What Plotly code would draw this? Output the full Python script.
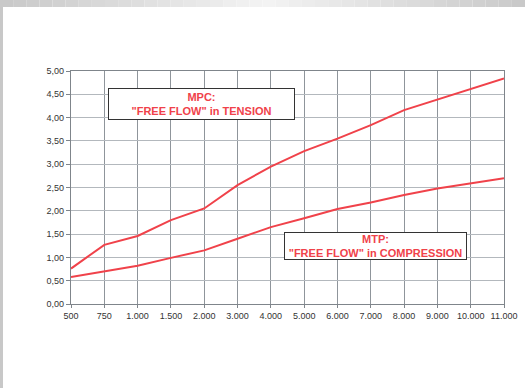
import plotly.graph_objects as go

categories = ["500", "750", "1.000", "1.500", "2.000", "3.000", "4.000", "5.000",
              "6.000", "7.000", "8.000", "9.000", "10.000", "11.000"]
mpc_values = [0.76, 1.27, 1.46, 1.80, 2.05, 2.55, 2.95, 3.28, 3.55, 3.84, 4.16, 4.39, 4.62, 4.84]
mtp_values = [0.58, 0.70, 0.82, 0.99, 1.15, 1.40, 1.65, 1.84, 2.04, 2.18, 2.34, 2.48, 2.59, 2.70]
y_ticks = [0, 0.5, 1, 1.5, 2, 2.5, 3, 3.5, 4, 4.5, 5]

RED = "#f0424a"
FONT = "Liberation Sans, Arial, sans-serif"

fig = go.Figure()
fig.add_trace(go.Scatter(x=categories, y=mpc_values, mode="lines",
                         line=dict(color=RED, width=2), name="MPC", cliponaxis=False))
fig.add_trace(go.Scatter(x=categories, y=mtp_values, mode="lines",
                         line=dict(color=RED, width=2), name="MTP", cliponaxis=False))

PX0, PW, PY0, PH = 71, 433, 304, 233

def px(x):
    return (x - PX0) / PW

def py(y):
    return (PY0 - y) / PH

# decorative page border strips
shapes = []
n = 40
W = 525
for i in range(n):
    x0 = i * W / n
    x1 = (i + 1) * W / n
    t = abs((x0 + x1) / 2 - 265) / 265
    g = int(244 - (244 - 200) * t)
    col = f"rgb({g},{g},{g})"
    shapes.append(dict(type="rect", xref="paper", yref="paper",
                       x0=px(x0), x1=px(x1), y0=py(7), y1=py(0),
                       fillcolor=col, line=dict(width=0), layer="below"))
shapes.append(dict(type="rect", xref="paper", yref="paper",
                   x0=px(0), x1=px(3), y0=py(388), y1=py(7),
                   fillcolor="rgb(200,200,200)", line=dict(width=0), layer="below"))

fig.update_layout(
    width=525, height=388,
    margin=dict(l=71, r=21, t=71, b=84, autoexpand=False),
    paper_bgcolor="white", plot_bgcolor="white",
    showlegend=False,
    separators=",.",
    font=dict(family=FONT, size=9, color="#333333"),
    shapes=shapes,
    xaxis=dict(type="category", range=[0, len(categories) - 1], automargin=False,
               showgrid=True, gridcolor="#8f959b", gridwidth=1.2,
               showline=True, linecolor="#7f858b", linewidth=1.2, mirror=True,
               ticks="outside", ticklen=3, tickcolor="#7f858b",
               tickfont=dict(size=9, color="#333333"), zeroline=False),
    yaxis=dict(range=[0, 5], tickvals=y_ticks, tickformat=".2f", automargin=False,
               showgrid=True, gridcolor="#b3b8bd", gridwidth=1.2,
               showline=True, linecolor="#7f858b", linewidth=1.2, mirror=True,
               ticks="outside", ticklen=4, tickcolor="#7f858b",
               tickfont=dict(size=9, color="#333333"), zeroline=False),
    annotations=[
        dict(xref="paper", yref="paper", x=px(201.5), y=py(104),
             xanchor="center", yanchor="middle", showarrow=False,
             text="<b>MPC:</b><br><b>\"FREE FLOW\" in TENSION</b>",
             font=dict(family=FONT, size=11, color=RED),
             align="center", bgcolor="white", bordercolor="#333333",
             borderwidth=1, borderpad=0, width=185, height=30),
        dict(xref="paper", yref="paper", x=px(375.5), y=py(246.3),
             xanchor="center", yanchor="middle", showarrow=False,
             text="<b>MTP:</b><br><b>\"FREE FLOW\" in COMPRESSION</b>",
             font=dict(family=FONT, size=11, color=RED),
             align="center", bgcolor="white", bordercolor="#333333",
             borderwidth=1, borderpad=0, width=181, height=26),
    ],
)

fig.write_html("out.html", config={"displayModeBar": False},
               post_script="document.body.style.margin='0';document.body.style.overflow='hidden';")
